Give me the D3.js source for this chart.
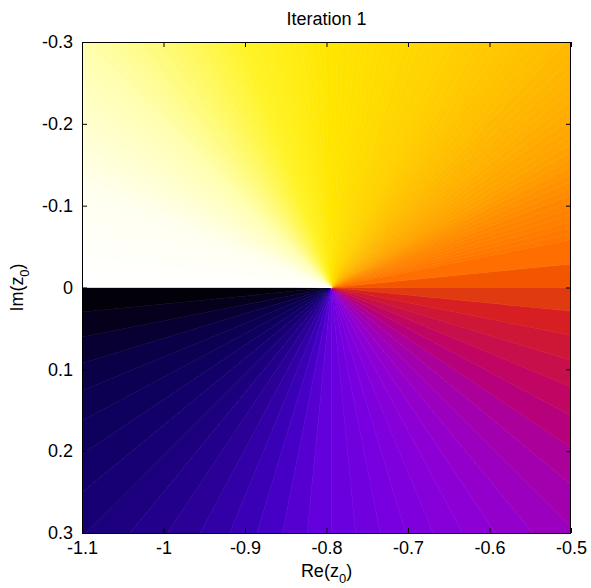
<!DOCTYPE html>
<html>
<head>
<meta charset="utf-8">
<script src="https://cdn.jsdelivr.net/npm/d3@7"></script>
<style>
  body { margin: 0; background: #fff; }
  svg text { font-family: "Liberation Sans", Arial, sans-serif; fill: #000; }
</style>
</head>
<body>
<svg id="chart"></svg>
<script>
// ticks
var xTicks = [-1.1, -1, -0.9, -0.8, -0.7, -0.6, -0.5];
var yTicks = [-0.3, -0.2, -0.1, 0, 0.1, 0.2, 0.3];

// point the phase turns around
var rootRe = -0.794;
var rootIm = 0;

// colour map: position 0..1 and colour
var cmapStops = [0, 0.025, 0.055, 0.09, 0.125, 0.17, 0.205, 0.24, 0.29, 0.34, 0.375,
  0.4, 0.42, 0.447, 0.466, 0.479, 0.492, 0.505, 0.518, 0.56, 0.586, 0.63, 0.676,
  0.75, 0.805, 0.878, 0.94, 1];
var cmapColors = ["#000000", "#06001e", "#0a0048", "#0e0060", "#1a0078", "#2c009c",
  "#4000c0", "#6200dc", "#7800e0", "#8e00d4", "#9e00b8", "#ac0098", "#bc0070",
  "#c8104a", "#d01a30", "#d82020", "#e03a10", "#f05000", "#ff6a00", "#ff8a00",
  "#ffa400", "#ffbc00", "#ffd000", "#ffe600", "#fff428", "#ffffb0", "#fffff0", "#ffffff"];
// coarse steps in the dark half, fine steps in the light half
var coarseLevels = 64;
var fineLevels = 256;
var fineFrom = 0.53;

var dimensions = {
  width: 591,
  height: 588,
  margin: { top: 42, right: 20, bottom: 55, left: 82 },
};

var svg = d3.select("#chart")
  .attr("width", dimensions.width)
  .attr("height", dimensions.height);

var xScale = d3.scaleLinear()
  .domain([-1.1, -0.5])
  .range([dimensions.margin.left, dimensions.width - dimensions.margin.right]);

var yScale = d3.scaleLinear()
  .domain([-0.3, 0.3])
  .range([dimensions.margin.top, dimensions.height - dimensions.margin.bottom]);

var colorScale = d3.scaleLinear()
  .domain(cmapStops)
  .range(cmapColors)
  .interpolate(d3.interpolateRgb);

var x0 = xScale.range()[0], x1 = xScale.range()[1];
var y0 = yScale.range()[0], y1 = yScale.range()[1];

svg.append("clipPath")
  .attr("id", "plot-clip")
  .append("rect")
  .attr("x", x0).attr("y", y0)
  .attr("width", x1 - x0).attr("height", y1 - y0);

// phase bands: [t start, t end]
var bands = [];
d3.range(coarseLevels).forEach((k) => {
  var a = k / coarseLevels, b = (k + 1) / coarseLevels;
  if (a < fineFrom) {
    bands.push([a, b]);
  }
});
var tFine = bands[bands.length - 1][1];
d3.range(Math.round(tFine * fineLevels), fineLevels).forEach((k) => {
  bands.push([k / fineLevels, (k + 1) / fineLevels]);
});

var arc = d3.arc().innerRadius(0).outerRadius(900);
var cx = xScale(rootRe), cy = yScale(rootIm);

// t = 0 on the lower side of the cut, growing clockwise on screen
svg.append("g")
  .attr("clip-path", "url(#plot-clip)")
  .append("g")
  .attr("transform", "translate(" + cx + "," + cy + ")")
  .selectAll("path")
  .data(bands)
  .enter()
  .append("path")
  .attr("d", (d) => {
    var phiHi = Math.PI - 2 * Math.PI * d[0];
    var phiLo = Math.PI - 2 * Math.PI * d[1];
    return arc({ startAngle: phiLo + Math.PI / 2, endAngle: phiHi + Math.PI / 2 });
  })
  .attr("fill", (d) => colorScale((d[0] + d[1]) / 2))
  .attr("stroke", (d) => colorScale((d[0] + d[1]) / 2))
  .attr("stroke-width", 0.6);

// axes, ticks inside like the original
var fontSize = 18;
var xAxisgen = d3.axisBottom(xScale).tickValues(xTicks).tickFormat((d) => String(d))
  .tickSizeInner(-5).tickSizeOuter(0).tickPadding(8);
var yAxisgen = d3.axisLeft(yScale).tickValues(yTicks).tickFormat((d) => String(d))
  .tickSizeInner(-5).tickSizeOuter(0).tickPadding(9);
var xTopgen = d3.axisTop(xScale).tickValues(xTicks).tickFormat("").tickSizeInner(-5).tickSizeOuter(0);
var yRightgen = d3.axisRight(yScale).tickValues(yTicks).tickFormat("").tickSizeInner(-5).tickSizeOuter(0);

function styleAxis(g) {
  g.select(".domain").remove();
  g.selectAll("line").attr("stroke", "#000");
  g.selectAll("text")
    .style("font-family", '"Liberation Sans", Arial, sans-serif')
    .style("font-size", fontSize + "px")
    .attr("fill", "#000");
}

svg.append("g").attr("transform", "translate(0," + y1 + ")").call(xAxisgen).call(styleAxis);
svg.append("g").attr("transform", "translate(" + x0 + ",0)").call(yAxisgen).call(styleAxis);
svg.append("g").attr("transform", "translate(0," + y0 + ")").call(xTopgen).call(styleAxis);
svg.append("g").attr("transform", "translate(" + x1 + ",0)").call(yRightgen).call(styleAxis);

svg.append("rect")
  .attr("x", x0 + 0.5).attr("y", y0 + 0.5)
  .attr("width", x1 - x0 - 1).attr("height", y1 - y0)
  .attr("fill", "none")
  .attr("stroke", "#000")
  .attr("stroke-width", 1);

// title and axis labels
svg.append("text")
  .attr("x", (x0 + x1) / 2)
  .attr("y", 25)
  .attr("text-anchor", "middle")
  .style("font-size", fontSize + "px")
  .text("Iteration 1");

var xLabel = svg.append("text")
  .attr("x", (x0 + x1) / 2)
  .attr("y", 577)
  .attr("text-anchor", "middle")
  .style("font-size", fontSize + "px");
xLabel.append("tspan").text("Re(z");
xLabel.append("tspan").attr("dy", 6).style("font-size", "13px").text("0");
xLabel.append("tspan").attr("dy", -6).text(")");

var yLabel = svg.append("text")
  .attr("transform", "translate(23," + (y0 + y1) / 2 + ") rotate(-90)")
  .attr("text-anchor", "middle")
  .style("font-size", fontSize + "px");
yLabel.append("tspan").text("Im(z");
yLabel.append("tspan").attr("dy", 6).style("font-size", "13px").text("0");
yLabel.append("tspan").attr("dy", -6).text(")");
</script>
</body>
</html>
